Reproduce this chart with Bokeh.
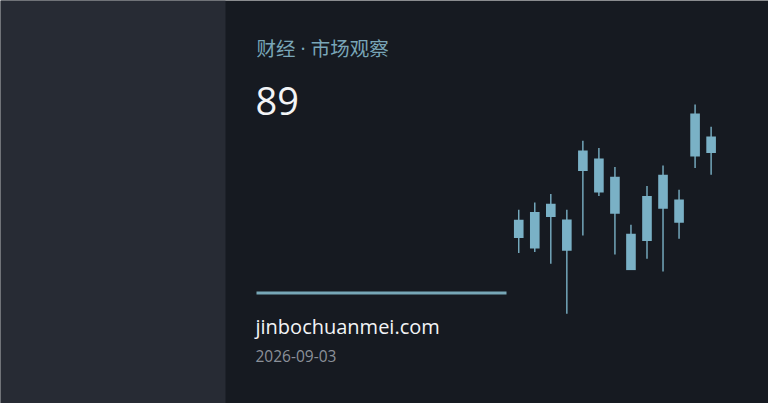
from bokeh.plotting import figure
from bokeh.models import Range1d, ColumnDataSource
from bokeh.core.properties import value
from bokeh.embed import file_html
from bokeh.resources import INLINE

# ---- data ----
days = [1, 2, 3, 4, 5, 6, 7, 8, 9, 10, 11, 12, 13]
opens = [46.2, 41.0, 63.4, 55.5, 79.7, 86.0, 76.9, 48.4, 44.7, 60.9, 65.5, 87.0, 97.0]
closes = [55.4, 59.2, 56.7, 39.9, 90.0, 69.0, 58.4, 30.2, 67.2, 77.9, 53.9, 108.5, 88.7]
highs = [60.4, 64.0, 68.2, 60.4, 94.9, 91.2, 81.7, 52.9, 72.2, 82.5, 70.4, 113.0, 101.9]
lows = [38.7, 39.2, 33.4, 8.4, 47.5, 67.2, 38.0, 30.2, 35.9, 29.5, 45.9, 81.2, 77.9]

kicker = "财经 · 市场观察"
headline = "89"
site = "jinbochuanmei.com"
date_label = "2026-09-03"

# ---- styles ----
BG = "#161a21"
PANEL = "#272b34"
ACCENT = "#7ab1c6"
TITLE_C = "#79a6b8"
LINE_C = "#77a7b7"
WHITE = "#f2f4f6"
GREY = "#8b9099"

p = figure(width=768, height=403, output_backend="svg", toolbar_location=None,
           x_range=Range1d(0, 768), y_range=Range1d(403, 0),
           x_axis_type=None, y_axis_type=None, min_border=0,
           background_fill_color=BG, border_fill_color=BG, outline_line_color=None)
p.grid.visible = False

p.extra_x_ranges = {"idx": Range1d(-31.33, 16.58)}
p.extra_y_ranges = {"price": Range1d(-36.5, 165.0)}

# left panel
p.quad(left=0, right=225, top=0, bottom=403, fill_color=PANEL, line_color=None)

# candles
src = ColumnDataSource(dict(
    x=days, o=opens, c=closes, h=highs, l=lows,
    top=[max(a, b) for a, b in zip(opens, closes)],
    bot=[min(a, b) for a, b in zip(opens, closes)],
))
p.segment(x0="x", y0="h", x1="x", y1="l", source=src, line_color=ACCENT,
          line_width=1.4, x_range_name="idx", y_range_name="price")
p.vbar(x="x", width=0.6, top="top", bottom="bot", source=src, fill_color=ACCENT,
       line_color=None, x_range_name="idx", y_range_name="price")

# texts
p.text(x=[256], y=[47.5], text=[kicker],
       text_font=value("'Open Sans', 'Noto Sans CJK SC'"),
       text_font_size="19.5px", text_color=TITLE_C, text_baseline="middle")
p.text(x=[255], y=[100], text=[headline], text_font=value("Open Sans"),
       text_font_size="38px", text_color=WHITE, text_baseline="middle")
p.quad(left=256, right=506, top=291, bottom=294, fill_color=LINE_C, line_color=None)
p.text(x=[255], y=[325.5], text=[site], text_font=value("Open Sans"),
       text_font_size="20px", text_color=WHITE, text_baseline="middle")
p.text(x=[255], y=[355.5], text=[date_label], text_font=value("Open Sans"),
       text_font_size="15.5px", text_color=GREY, text_baseline="middle")

open("out.html", "w").write(file_html(p, INLINE))
